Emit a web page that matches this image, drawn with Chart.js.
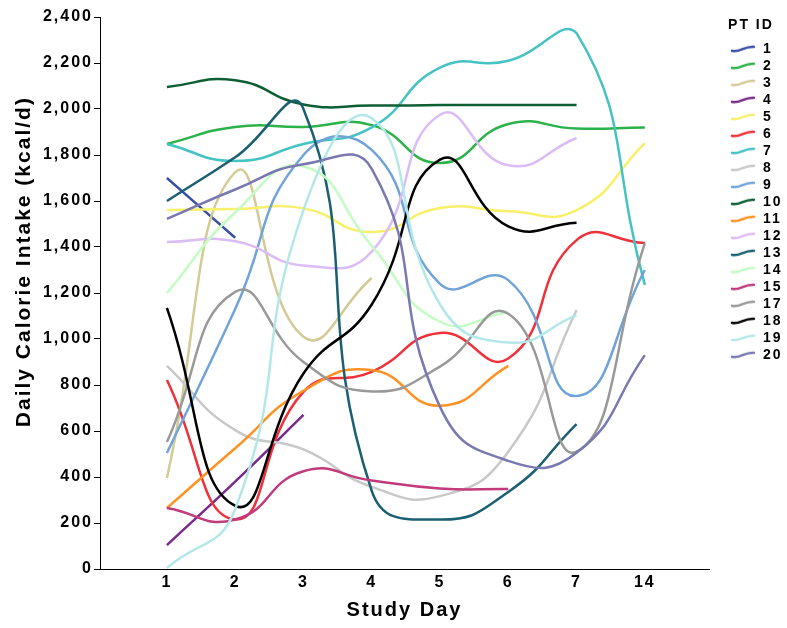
<!DOCTYPE html>
<html>
<head>
<meta charset="utf-8">
<script src="https://cdn.jsdelivr.net/npm/chart.js@4.4.1/dist/chart.umd.min.js"></script>
<style>
  html, body { margin: 0; padding: 0; background: #fff; }
  #wrap { width: 787px; height: 628px; }
</style>
</head>
<body>
<div id="wrap"><canvas id="intakeChart" width="787" height="628"></canvas></div>
<script>
// study days shown on the x axis (evenly spaced, 14 follows 7)
var studyDays = ['1', '2', '3', '4', '5', '6', '7', '14'];
var ptIds = ['1', '2', '3', '4', '5', '6', '7', '8', '9', '10',
             '11', '12', '13', '14', '15', '17', '18', '19', '20'];

// daily calorie intake (kcal/d) per patient, one value per study day
var pt1 = [1700, 1440];
var pt2 = [1848, 1922, 1922, 1930, 1765, 1935, 1915, 1920];
var pt3 = [396, 1725, 1010, 1265];
var pt4 = [104, 380, 670];
var pt5 = [1561, 1565, 1568, 1465, 1570, 1555, 1560, 1852];
var pt6 = [822, 215, 770, 857, 1026, 915, 1430, 1417];
var pt7 = [1848, 1774, 1848, 1920, 2180, 2210, 2330, 1235];
var pt8 = [883, 604, 520, 357, 317, 510, 1126];
var pt9 = [504, 1130, 1800, 1822, 1240, 1256, 752, 1300];
var pt10 = [2096, 2125, 2020, 2015, 2017, 2017, 2017];
var pt11 = [265, 525, 775, 865, 710, 883];
var pt12 = [1422, 1425, 1320, 1380, 1975, 1755, 1874];
var pt13 = [1600, 1790, 2000, 340, 215, 335, 630];
var pt14 = [1200, 1550, 1750, 1405, 1075, 1117];
var pt15 = [265, 215, 425, 385, 350, 348];
var pt17 = [552, 1205, 900, 772, 880, 1110, 510, 1417];
var pt18 = [1135, 275, 850, 1150, 1780, 1490, 1505];
var pt19 = [5, 260, 1560, 1960, 1150, 985, 1104];
var pt20 = [1522, 1650, 1760, 1740, 705, 470, 505, 930];

var ptSeries = [pt1, pt2, pt3, pt4, pt5, pt6, pt7, pt8, pt9, pt10,
                pt11, pt12, pt13, pt14, pt15, pt17, pt18, pt19, pt20];

var ptColors = [
    "#3a4fa3", "#2bb24a", "#d2cb96", "#7a2a8a", "#f8f06a",
    "#f0303a", "#45c3c3", "#c8c8c8", "#70a4d8", "#0e5e34",
    "#ff9224", "#dcbcf4", "#1a5f72", "#c4fcc4", "#c03a7c",
    "#999999", "#000000", "#b4e8e8", "#7a78b0"
];

var fontFamily = '"Liberation Sans", Arial, sans-serif';

// little wavy line used as the legend symbol
function legendWave(color) {
    var c = document.createElement('canvas');
    c.width = 44;
    c.height = 12;
    var g = c.getContext('2d');
    g.strokeStyle = color;
    g.lineWidth = 2.5;
    g.lineCap = 'round';
    g.beginPath();
    g.moveTo(20, 8);
    g.bezierCurveTo(28, 10, 32, 3, 42, 4);
    g.stroke();
    return c;
}

var datasets = ptSeries.map(function (values, i) {
    return {
        label: ptIds[i],
        data: values.map(function (v, k) { return {x: k + 1, y: v}; }),
        borderColor: ptColors[i],
        backgroundColor: ptColors[i],
        borderWidth: 2.5,
        pointRadius: 0,
        pointHoverRadius: 0,
        pointStyle: legendWave(ptColors[i]),
        tension: 0.5,
        fill: false,
        order: -i
    };
});

// SPSS style output has wide letter spacing
var spacingPlugin = {
    id: 'spacing',
    beforeLayout: function (chart) { chart.ctx.letterSpacing = '2px'; },
    beforeDraw: function (chart) { chart.ctx.letterSpacing = '2px'; }
};

var intakeCtx = document.getElementById("intakeChart");

var intakeChart = new Chart(intakeCtx, {
    type: 'line',
    data: { datasets: datasets },
    plugins: [spacingPlugin],
    options: {
        responsive: false,
        animation: false,
        layout: { padding: { top: 17, left: 0, right: 0, bottom: 0 } },
        plugins: {
            tooltip: { enabled: false },
            legend: {
                position: 'right',
                align: 'start',
                maxWidth: 78,
                title: {
                    display: true,
                    text: ' PT ID',
                    color: '#000',
                    font: { family: fontFamily, size: 14, weight: 'bold' },
                    padding: { top: 1, bottom: 4 }
                },
                labels: {
                    usePointStyle: true,
                    pointStyleWidth: 44,
                    padding: 3,
                    color: '#000',
                    font: { family: fontFamily, size: 14, weight: 'bold' },
                    sort: function (a, b) { return a.datasetIndex - b.datasetIndex; }
                }
            }
        },
        scales: {
            x: {
                type: 'linear',
                min: 0.02,
                max: 8.94,
                grid: { display: false, drawTicks: false },
                border: { display: true, color: '#000', width: 1 },
                ticks: {
                    stepSize: 1,
                    autoSkip: false,
                    maxRotation: 0,
                    padding: 4,
                    color: '#000',
                    font: { family: fontFamily, size: 16, weight: 'bold' },
                    callback: function (v) { return studyDays[v - 1] || ''; }
                },
                title: {
                    display: true,
                    text: 'Study Day',
                    color: '#000',
                    font: { family: fontFamily, size: 20, weight: 'bold' },
                    padding: { top: 0, bottom: 6 }
                },
                afterFit: function (scale) { scale.height = 59; }
            },
            y: {
                min: 0,
                max: 2400,
                grid: { display: true, drawOnChartArea: false, drawTicks: true, tickLength: 6, color: '#000' },
                border: { display: true, color: '#000', width: 1 },
                ticks: {
                    stepSize: 200,
                    padding: 1,
                    color: '#000',
                    font: { family: fontFamily, size: 16, weight: 'bold' }
                },
                title: {
                    display: true,
                    // leading spaces lift the label to where the original sits
                    text: '        Daily Calorie Intake (kcal/d)',
                    color: '#000',
                    font: { family: fontFamily, size: 21, weight: 'bold' },
                    padding: { top: 12, bottom: 0 }
                },
                afterFit: function (scale) { scale.width = 100; }
            }
        }
    }
});
</script>
</body>
</html>
